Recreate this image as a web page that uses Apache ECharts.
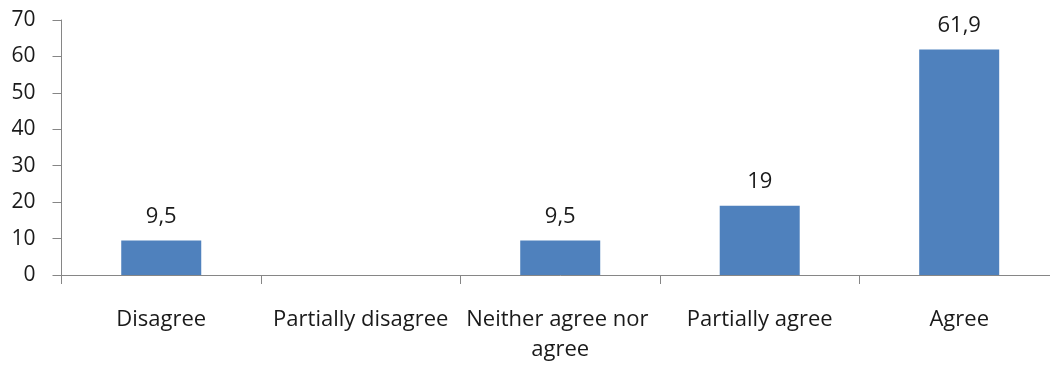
<!DOCTYPE html>
<html>
<head>
<meta charset="utf-8">
<script src="https://cdn.jsdelivr.net/npm/echarts@6/dist/echarts.min.js"></script>
<style>html,body{margin:0;padding:0;background:#fff;overflow:hidden}#c{width:1061px;height:365px}</style>
</head>
<body>
<div id="c"></div>
<script>
const categories = ['Disagree', 'Partially disagree', 'Neither agree nor agree', 'Partially agree', 'Agree'];
const values = [9.5, null, 9.5, 19, 61.9];
const yTicks = { min: 0, max: 70, interval: 10 };

const chart = echarts.init(document.getElementById('c'));
const font = '"Open Sans", sans-serif';
chart.setOption({
  animation: false,
  grid: { left: 61.5, right: 0, top: 20, bottom: 90 },
  xAxis: {
    type: 'category',
    data: categories,
    axisLine: { lineStyle: { color: '#868686', width: 1 } },
    axisTick: { show: true, length: 9, alignWithLabel: false, lineStyle: { color: '#868686' } },
    axisLabel: {
      color: '#1a1a1a', fontFamily: font, fontSize: 22, margin: 30,
      width: 198, overflow: 'break', lineHeight: 30, interval: 0
    }
  },
  yAxis: {
    type: 'value',
    min: yTicks.min, max: yTicks.max, interval: yTicks.interval,
    splitLine: { show: false },
    axisLine: { show: true, lineStyle: { color: '#868686', width: 1 } },
    axisTick: { show: true, length: 9, lineStyle: { color: '#868686' } },
    axisLabel: { color: '#1a1a1a', fontFamily: font, fontSize: 21, margin: 26 }
  },
  series: [{
    type: 'bar',
    data: values,
    barWidth: 80,
    itemStyle: { color: '#4F81BD' },
    label: {
      show: true, position: 'top', distance: 13,
      color: '#1a1a1a', fontFamily: font, fontSize: 22,
      formatter: p => String(p.value).replace('.', ',')
    }
  }]
});
</script>
</body>
</html>
